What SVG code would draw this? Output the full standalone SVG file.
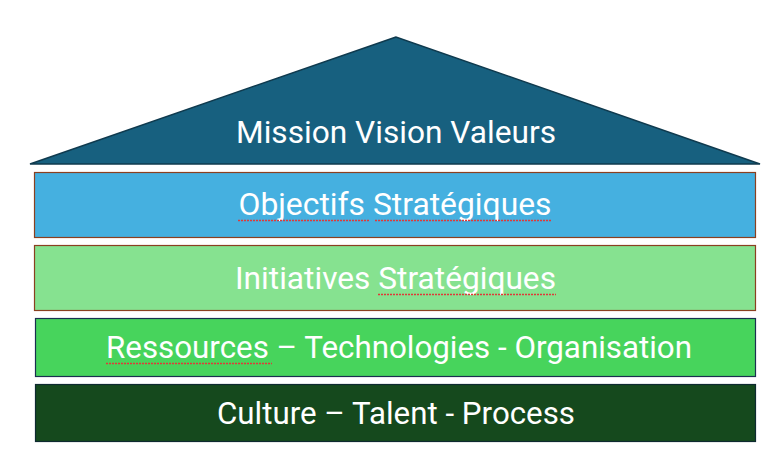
<svg xmlns="http://www.w3.org/2000/svg" width="768" height="452" viewBox="0 0 768 452">
<defs>
<style>
.t{font-family:"Liberation Sans Narrow","Roboto","Liberation Sans",sans-serif;font-size:32px;fill:#ffffff;text-anchor:middle}
.sq{fill:none;stroke:#e03838;stroke-width:1.3;stroke-dasharray:2 1}
</style>
</defs>
<rect width="768" height="452" fill="#ffffff"/>
<g id="roof">
<polygon points="396,37 30,164 760,164" fill="#17607f" stroke="#0f3a4e" stroke-width="1.5"/>
<text class="t" x="396" y="143" textLength="320" lengthAdjust="spacingAndGlyphs">Mission  Vision Valeurs</text>
</g>
<g id="objectifs">
<rect x="34.5" y="172.5" width="721" height="65" fill="#45b0e0" stroke="#8a4020" stroke-width="1.2"/>
<text class="t" x="395" y="215" textLength="313" lengthAdjust="spacingAndGlyphs">Objectifs Stratégiques</text>
<path class="sq" d="M238 220.5 H369 M375 220.5 H551"/>
</g>
<g id="initiatives">
<rect x="34.5" y="245.5" width="721" height="65" fill="#86e290" stroke="#8a4020" stroke-width="1.2"/>
<text class="t" x="395.5" y="289" textLength="321" lengthAdjust="spacingAndGlyphs">Initiatives Stratégiques</text>
<path class="sq" d="M378 294.5 H556"/>
</g>
<g id="ressources">
<rect x="35.5" y="318.5" width="720" height="58" fill="#47d45c" stroke="#1a3050" stroke-width="1.2"/>
<text class="t" x="399" y="358" textLength="586" lengthAdjust="spacingAndGlyphs">Ressources – Technologies - Organisation</text>
<path class="sq" d="M106 363.5 H272"/>
</g>
<g id="culture">
<rect x="35.5" y="384.5" width="720" height="57" fill="#15491d" stroke="#0e2a30" stroke-width="1.2"/>
<text class="t" x="396" y="424" textLength="358" lengthAdjust="spacingAndGlyphs">Culture – Talent - Process</text>
</g>
<g id="connectors"></g>
</svg>
